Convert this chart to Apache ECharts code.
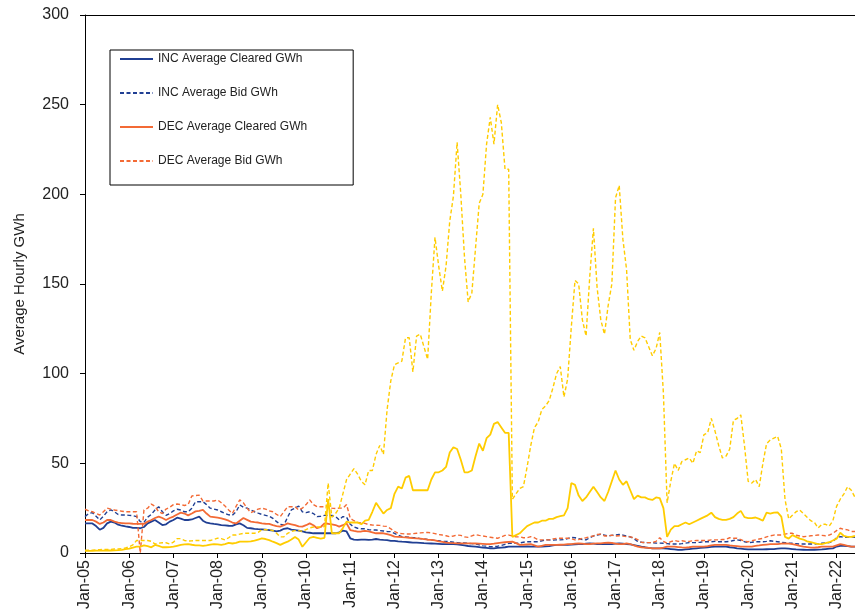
<!DOCTYPE html>
<html><head><meta charset="utf-8">
<script src="https://cdn.jsdelivr.net/npm/echarts@6/dist/echarts.min.js"></script>
<style>html,body{margin:0;padding:0;background:#fff}#c{width:855px;height:612px}</style>
</head><body><div id="c"></div>
<script>
// Tick label parts (x categories are monthly, Jan-05 .. Jun-22)
const yearLabels = ['05','06','07','08','09','10','11','12','13','14','15','16','17','18','19','20','21','22'];
const monthLabels = ['Jan','Feb','Mar','Apr','May','Jun','Jul','Aug','Sep','Oct','Nov','Dec'];
const lastYearMonths = 6;

const incCleared = [
16.5,16.5,16.5,15,13,14,16.5,17.5,17,15.8,15.2,14.8,
14.5,14,14,13.8,14.5,16.5,17.5,18.4,17,15.6,16,17.5,
18.4,19.7,19.2,18.4,18.4,18.7,19.5,20.3,18,16.9,16.5,16.2,
16,15.6,15.4,15.2,15.1,16,16.5,15.5,14,13.8,13.5,13.3,
13.2,13,12.8,12.5,12,12.5,13.5,13.8,13,12.8,12.5,12,
11.5,11.3,11,11,11,11,11,11,11,11.5,12.5,12,
8.2,7.5,7.3,7.5,7.5,7.3,7.5,7.8,7.5,7.3,7.2,6.8,
6.8,6.5,6.3,6.2,6,5.8,5.8,5.7,5.5,5.4,5.3,5.2,
5.1,5,5,5,5,4.8,4.5,4.2,3.9,3.7,3.5,3.3,
3,2.8,2.6,2.6,2.8,3,3.2,3.5,3.5,3.5,3.5,3.6,
3.7,3.6,3.5,3.5,3.6,3.7,3.8,4.2,4.5,4.5,4.5,4.5,
4.7,4.8,4.9,5,5.2,5.4,5.2,5,5,5,5,5,
5.2,5.4,5.2,5,4.8,4.4,4,3.5,3.2,2.8,2.6,2.6,
2.6,2.6,2.4,2.2,2,1.7,1.7,2,2.2,2.4,2.6,2.8,
3,3.2,3.4,3.5,3.5,3.5,3.5,3.2,3,2.6,2.4,2.2,
2,2,2,2,2,2.1,2.2,2.2,2.4,2.6,2.6,2.4,
2.2,2,1.9,1.8,1.7,1.7,1.8,1.9,2,2.2,2.4,2.6,
3.6,4,4,3.8,3.6,3.5];

const incBid = [
20.3,22,22.5,20.5,18.4,20.5,23,24,23,21.5,21.2,21.2,
21,20.8,20.3,17.5,17,20,21.5,24,25.8,23,21,22,
23.5,24.4,24,23,23,25,28.6,28.6,28.6,27,25,24.5,
24,23,22,21.3,21,23,26.8,25.5,25,24,23,22.2,
21.5,21,20.5,19.3,17.5,16,15.6,20,24,25,26.2,23,
22.5,23,22,20.3,20.5,21,21,21,20.3,18.5,20.3,20,
16,14.5,13.8,13.5,13.5,13,12.8,12.8,12.5,12.3,12,11.9,
11,10,9.1,9,8.8,8.6,8.5,8,7.8,7.5,7.3,7,
6.8,6.5,6.5,6.3,6,5.8,5.6,5.6,5.4,5.2,5,4.5,
4,3.8,3.5,3.5,3.8,4.2,4.8,5.4,5.4,5.4,5.6,6,
6.3,6.3,6.3,6.3,6.8,7.3,7.3,7.2,7.3,7.3,7.5,8,
8.7,8.5,8,7.5,7.3,8.5,9.5,10,10.5,10,9.5,9.8,
10,10.3,10,9.5,9,8,6.5,6,5.8,5.8,5.8,5.5,
5.5,5.4,5.2,5,5,5,5.2,5.5,5.8,5.8,5.8,6,
6.3,6.3,6.3,6.5,6.3,6.3,6.3,6.5,7,7.3,7,6.3,
5.8,6,6.3,6.3,6.3,6.5,6.8,6.5,6.3,6,5.8,5.5,
5.4,5.2,5,5,5,5,5,5.2,5.4,5.6,5.8,6.5,
8.5,9.1,8.8,8.7,9,8.7];

const decCleared = [
18.4,18.4,18.4,17.5,16.2,17,18.4,18.4,17.5,16.9,16.7,16.5,
16.5,16.3,16.2,16.2,16.2,17.5,18.4,19.5,20.3,19.5,18.4,19.5,
20.3,21.5,22.5,22,21,22,23.2,23.5,24,22,20.3,20,
19.7,19.3,18.7,18,17,16.5,18,19.5,18.5,17.5,17.2,17,
16.5,16.3,16.2,15.5,15,14.7,15.5,16.5,16,15.5,14.8,14.7,
15.5,16.5,15.5,13.8,14.5,16.5,16.3,16,15.6,14.7,15.5,16.5,
12.8,12.3,11.9,12,12.3,12,11.5,11,11,11,10.5,10,
9.1,9,8.8,8.7,8.5,8.3,8.2,8,7.7,7.4,7.3,7,
6.5,6.2,5.8,5.6,5.5,5.4,5.4,5.4,5.4,5.4,5.3,5.2,
5.1,5,5,5.2,5.5,5.8,6,6.2,6.3,5.5,4.5,4.6,
4.8,4.9,4.3,3.5,4,4.5,4.5,4.5,4.5,4.6,4.7,4.9,
5,5.2,5.4,5.2,5,4.9,5.2,5.4,5.4,5.6,5.8,5.6,
5.2,4.9,5,5.4,5,4.2,3.5,3.2,3,2.8,2.6,2.6,
2.6,3,3.5,3.5,3.5,3.3,3.1,3,3.2,3.5,3.5,3.5,
3.5,3.8,4.2,4.5,4.5,4.5,4.5,4.2,4,3.8,3.6,3.5,
3.5,3.6,4,4.2,4.5,4.7,4.9,4.9,4.9,5.2,5.4,5.2,
5,4.5,4,3.5,3.3,3,3,3.2,3.5,3.5,3.5,3.5,
4.2,4.9,4.5,4,3.6,3.5];

const decBid = [
24.4,23.5,23,22,21.2,23,25,24.5,24,23.6,23.3,23,
23,23,23,0,24,25,27.3,26,23,22,24.5,25.5,
27,27.3,27,26.5,27,31.8,32,32.3,29,29,29,29,
29.6,28,26.2,24,22,26,29.6,28,25,22.5,23.5,24.5,
25,24.5,23.5,23,21.5,20.3,23,25.8,25.8,25.8,24,25,
27,29.6,27,25.8,25.8,25.8,26.5,25,24.8,25,25,27,
19.3,18,17,16.8,16.5,15.8,15.6,15.5,15.4,15,14.8,13.5,
12,11,10.8,10.6,10.6,10.8,11,11.2,11.4,11.5,11.2,10.8,
10.3,10,9.6,9.1,9.5,10,9.8,9,8.7,9.5,10.3,9.8,
9.5,9.1,8.8,8.5,8.2,9,9.8,10,9.5,9,9,8.5,
8.5,9.1,8.5,7.3,7.3,7.3,7.3,7.8,8.2,8.2,8.2,8.2,
8,7.3,7.5,8.2,8.5,9.1,9.5,10.3,10.5,9.5,9.5,10,
9.5,9.6,9.4,9.1,9,8.5,7.5,6,5.8,5.8,5.8,6.5,
8.5,6.5,5.5,6.3,7,6.5,6.8,6.5,6.5,6.8,7,7,
7,7,7.3,7.3,7.3,7.5,7.6,8.5,8.2,8.2,7.5,6.5,
6.3,6.8,7.3,7.8,8.2,9,9.6,10,10,10,10.5,11,
11,10,9.5,9.1,9.3,9.6,9.8,10,9.8,9.6,10,11,
12.5,13.8,13.2,12.9,12,12];

const utcCleared = [
1.2,1.2,1.2,1.3,1.3,1.3,1.4,1.4,1.5,1.6,1.8,2.1,
2.5,3,3.5,3.5,4.3,3.8,3.2,4.5,4,3.2,3.2,3.3,
3.5,4,4.5,4.8,5,4.6,4.3,4.2,4,4.3,4.7,5,
4.8,4.5,5,5.6,5.3,5.6,6.3,6.3,6.3,6.5,6.9,7.5,
8.1,7.8,7.2,6.3,5.5,4.5,5.5,6.3,7.5,8.9,7.5,3.5,
6,8.5,9,8.5,8,8.5,30,11,11,11,14,17.5,
17,17,17,16,18,18.5,23,28,25,22,24,25,
33,37,36,42,43,35,35,35,35,35,41,45,
45,46,48,56,59,58,52,45,45,46,54,61,
57,64,66,72,73,70,67,67,9,10,11,13,
15,16,17,17,18,18,19,19,20,20.5,21,25,
39,38,32,29,31,34,37,34,31,29,34,40,
46,41,38,40,35,30,32,31,31,30,29.6,31,
30.6,25,9,13,15,15,16,17,16,17,18,19,
20,21,22.5,20,19,18.5,18.5,19,20,22,23.5,20,
19.5,19.5,19.8,19,18,22.5,22,22.5,22.7,20.3,9,8,
10,9,8,7.5,6.5,6,5.5,5,5,5.5,6,7,
8,11.3,9.5,9,9,9.5];

const utcBid = [
1.5,1.5,1.6,1.8,1.8,2,2,2,2.2,2.2,2.5,2.8,
3.5,4.5,7,7,7,7,6.5,5,5.5,5.7,5.7,5,
6,8,8,7,6.7,6.8,7,7,7,7,7,7.5,
8.3,8,7.3,8.5,10,10,10.5,11,11,11,11,11.5,
13,13,13,12.5,11,9,9,11,12,12.5,12.5,12,
13,14,14.5,14.5,14.5,14.7,39,20,22,25,33,41,
44,47,44,40,38,46,46,55,60,55,80,96,
105,106,107,120,120,101,121,122,115,108,145,176,
160,146,160,185,199,229,200,165,140,145,170,195,
200,228,243,228,250,240,214,214,30,33,36,37,
48,60,70,73,80,82,85,92,100,104,87,97,
126,152,150,130,121,154,181,148,130,122,138,150,
198,205,175,158,119,113,118,121,120,115,110,114,
123,89,28,40,50,46,51,52,53,50,57,56,
66,67,75,68,60,53,54,58,74,75,77,60,
40,39,41,37,50,61,63,64,65,58,30,19,
21,23,24,22,20,18,17,14,16,16,15,18,
26,30,33,37,35,31];

const yTicks = {min: 0, max: 300, interval: 50};

const categories = [];
yearLabels.forEach((y, i) => {
  const n = (i === yearLabels.length - 1) ? lastYearMonths : 12;
  for (let m = 0; m < n; m++) categories.push(monthLabels[m] + '-' + y);
});

const BLUE = '#203f93', ORANGE = '#f36a35', YELLOW = '#ffcc00';
const FONT = "'Liberation Sans', Arial, sans-serif";

function mk(name, data, color, dashed) {
  return {
    name, type: 'line', data, symbol: 'none', smooth: false,
    lineStyle: {color, width: dashed ? 1.4 : 1.8, type: dashed ? [4, 2.5] : 'solid'},
    itemStyle: {color},
    emphasis: {disabled: true}
  };
}

const chart = echarts.init(document.getElementById('c'), null, {renderer: 'canvas'});
chart.setOption({
  animation: false,
  backgroundColor: '#fff',
  grid: {left: 85, right: 0, top: 15, bottom: 59, containLabel: false},
  legend: {
    data: ['INC Average Cleared GWh', 'INC Average Bid GWh', 'DEC Average Cleared GWh', 'DEC Average Bid GWh'],
    orient: 'vertical', left: 110, top: 50,
    itemWidth: 33, itemHeight: 12, itemGap: 22,
    padding: [3, 46, 18, 9],
    borderColor: '#000', borderWidth: 1, backgroundColor: '#fff',
    itemStyle: {opacity: 0, borderWidth: 0},
    textStyle: {fontFamily: FONT, fontSize: 12, color: '#222'}
  },
  xAxis: [{
    type: 'category', data: categories, boundaryGap: false,
    axisLine: {lineStyle: {color: '#000', width: 1}},
    axisTick: {interval: 11, length: 5, lineStyle: {color: '#000'}},
    axisLabel: {interval: 11, rotate: 90, margin: 7, fontFamily: FONT, fontSize: 16, color: '#222'},
    splitLine: {show: false}
  }, {
    type: 'category', data: categories, boundaryGap: false, position: 'top',
    axisLine: {lineStyle: {color: '#000', width: 1}},
    axisTick: {show: false}, axisLabel: {show: false}, splitLine: {show: false}
  }],
  yAxis: {
    type: 'value', min: yTicks.min, max: yTicks.max, interval: yTicks.interval,
    name: 'Average Hourly GWh', nameLocation: 'middle', nameGap: 58,
    nameTextStyle: {fontFamily: FONT, fontSize: 15, color: '#222'},
    axisLine: {show: true, lineStyle: {color: '#000', width: 1}},
    axisTick: {show: true, length: 5, lineStyle: {color: '#000'}},
    axisLabel: {margin: 16, fontFamily: FONT, fontSize: 16, color: '#222'},
    splitLine: {show: false}
  },
  series: [
    mk('INC Average Cleared GWh', incCleared, BLUE, false),
    mk('INC Average Bid GWh', incBid, BLUE, true),
    mk('DEC Average Cleared GWh', decCleared, ORANGE, false),
    mk('DEC Average Bid GWh', decBid, ORANGE, true),
    mk('UTC Average Cleared GWh', utcCleared, YELLOW, false),
    mk('UTC Average Bid GWh', utcBid, YELLOW, true)
  ]
});
</script></body></html>
